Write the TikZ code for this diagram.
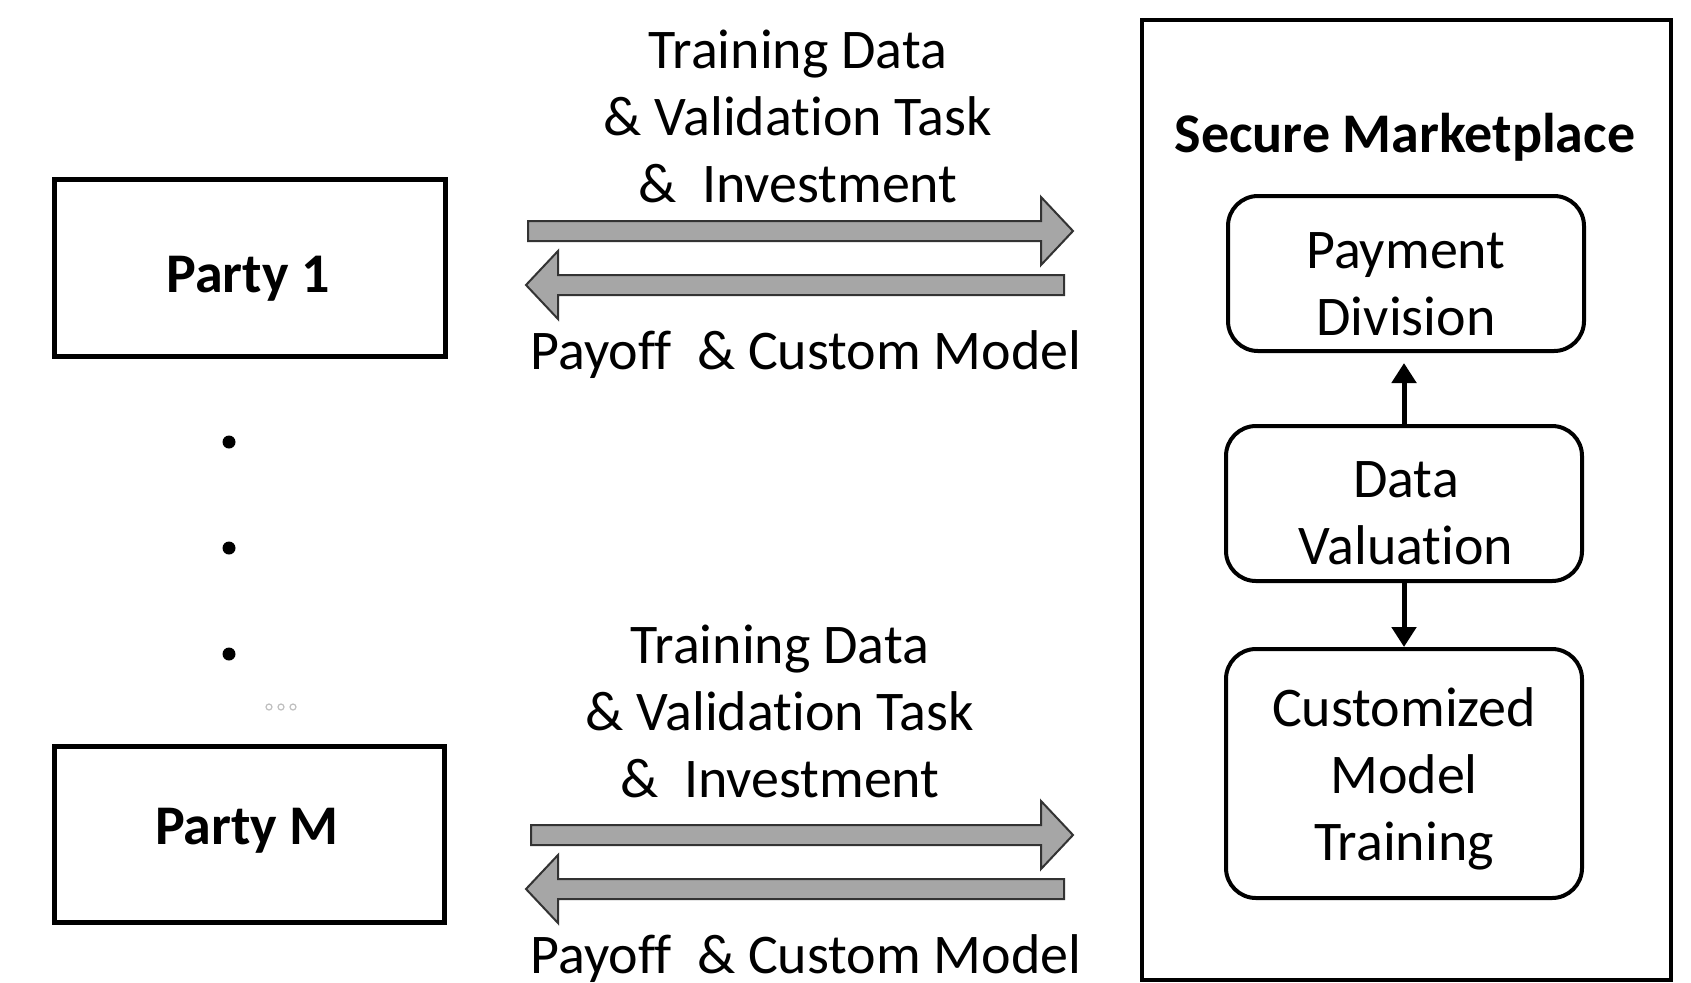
\documentclass[tikz,border=0pt]{standalone}
\usepackage{fontspec}
\setmainfont{Carlito}[Ligatures=NoCommon]
\usetikzlibrary{arrows.meta,calc}

% wide outlined block arrow between two named points (horizontal)
\newcommand{\fatarrow}[2]{%
  \path[fatarrow] let \p1=(#1), \p2=(#2), \n1={ifthenelse(\x2>\x1,1,-1)} in
    (\x1,\y1+5pt) -- ({\x2-(\n1)*16pt},\y1+5pt) -- ({\x2-(\n1)*16pt},\y1+17pt)
    -- (\x2,\y1) -- ({\x2-(\n1)*16pt},\y1-17pt) -- ({\x2-(\n1)*16pt},\y1-5pt)
    -- (\x1,\y1-5pt) -- cycle;}

\newcommand{\bodyfont}{\fontsize{28}{33.5}\selectfont}

\tikzset{
  txt/.style={font=\bodyfont, align=center, inner sep=0pt},
  party/.style={draw, line width=2.5pt, inner sep=0pt},
  partytxt/.style={font=\bodyfont\bfseries, inner sep=0pt},
  stage/.style={draw, line width=2pt, rounded corners=15pt, inner sep=0pt,
    minimum width=178pt},
  stagetxt/.style={font=\bodyfont, align=center, inner sep=0pt},
  fatarrow/.style={draw=black!80, line width=1pt, fill=black!35, line join=miter},
  flow/.style={line width=2.5pt, -{Triangle[width=12pt,length=10pt]}},
  dot/.style={circle, fill=black, inner sep=0pt, minimum size=6.5pt},
}

\begin{document}
\begin{tikzpicture}[x=0.5pt, y=-0.5pt]
\useasboundingbox (0,0) rectangle (1691,982);

% parties
\node[party, minimum width=195.5pt, minimum height=88.5pt] (p1) at (250,268) {};
\node[partytxt] (p1t) at (248,279) {Party 1};
\node[party, minimum width=195pt, minimum height=88pt] (pm) at (249,834.5) {};
\node[partytxt] (pmt) at (247,831) {Party M};

\node[dot] (d1) at (229,442) {};
\node[dot] (d2) at (229,548) {};
\node[dot] (d3) at (229,654) {};
\foreach \i/\x in {1/269,2/281,3/293}
  \node[circle, draw=black!25, line width=0.6pt, inner sep=0pt, minimum size=3pt] (o\i) at (\x,707) {};

% marketplace
\node[draw, line width=2pt, minimum width=264.5pt, minimum height=480pt] (market) at (1406.5,500) {};
\node[font=\bodyfont\bfseries, inner sep=0pt] (title) at (1405,137) {Secure Marketplace};

\node[stage, minimum height=77.5pt] (pd) at (1406,273.5) {};
\node[stage, minimum height=77.5pt] (dv) at (1404,503.5) {};
\node[stage, minimum height=124.5pt] (cmt) at (1404,773.5) {};
\node[stagetxt] (pdt) at (1406,284) {Payment\\Division};
\node[stagetxt] (dvt) at (1406,513) {Data\\Valuation};
\node[stagetxt] (cmtt) at (1404,779) {Customized\\Model\\Training};

\draw[flow] (dv.north) -- ([yshift=-5pt]dv.north |- pd.south);
\draw[flow] (dv.south) -- (cmt.north);

% exchanged items
\node[txt] (in1) at (798,116) {Training Data\\\& Validation Task\\\&\ \ Investment};
\node[txt] (out1) at (806,355) {Payoff\ \ \& Custom Model};
\node[txt] (inm) at (780,711) {Training Data\\\& Validation Task\\\&\ \ Investment};
\node[txt] (outm) at (806,959) {Payoff\ \ \& Custom Model};

\coordinate (a1s) at (528,231);
\coordinate (a1e) at (1073,231);
\coordinate (b1s) at (1064,285);
\coordinate (b1e) at (526,285);
\coordinate (a2s) at (531,835);
\coordinate (a2e) at (1073,835);
\coordinate (b2s) at (1064,889);
\coordinate (b2e) at (526,889);

\fatarrow{a1s}{a1e}
\fatarrow{b1s}{b1e}
\fatarrow{a2s}{a2e}
\fatarrow{b2s}{b2e}
\end{tikzpicture}
\end{document}
